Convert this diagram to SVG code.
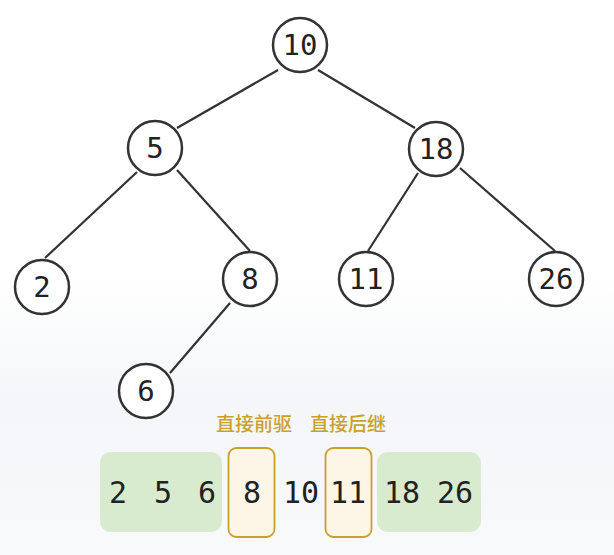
<svg xmlns="http://www.w3.org/2000/svg" width="614" height="555" viewBox="0 0 614 555">
<style>
.node circle{fill:#ffffff;stroke:#333333;stroke-width:2.5}
.node text{font-family:"DejaVu Sans Mono","Liberation Mono",monospace;font-size:29px;fill:#222222;text-anchor:middle}
.edge{stroke:#333333;stroke-width:2.2;fill:none}
.seq{font-family:"DejaVu Sans Mono","Liberation Mono",monospace;font-size:30px;fill:#222222;text-anchor:middle}
.lbl{font-family:"Noto Sans CJK SC","Noto Sans",sans-serif;font-size:19px;fill:#C9A02C;text-anchor:middle;font-weight:500}
.green{fill:#D9EBCF}
.gold{fill:#FDF6E6;stroke:#C9A02C;stroke-width:1.8}
</style>
<defs>
<linearGradient id="bg" x1="0" y1="0" x2="0" y2="1">
<stop offset="0" stop-color="#ffffff"/>
<stop offset="0.5" stop-color="#ffffff"/>
<stop offset="0.72" stop-color="#F4F6F9"/>
<stop offset="1" stop-color="#F8F9FB"/>
</linearGradient>
</defs>
<rect width="614" height="555" fill="url(#bg)"/>
<g id="connectors">
<line class="edge" x1="278" y1="70" x2="177" y2="128"/>
<line class="edge" x1="318" y1="70" x2="415" y2="128"/>
<line class="edge" x1="137" y1="172" x2="45" y2="258"/>
<line class="edge" x1="177" y1="170" x2="250" y2="251"/>
<line class="edge" x1="230" y1="303" x2="170" y2="373"/>
<line class="edge" x1="418" y1="173" x2="368" y2="251"/>
<line class="edge" x1="460" y1="168" x2="555" y2="251"/>
</g>
<g id="n10" class="node"><circle cx="300" cy="45" r="27"/><text x="300" y="55">10</text></g>
<g id="n5" class="node"><circle cx="155" cy="148" r="27"/><text x="155" y="158">5</text></g>
<g id="n18" class="node"><circle cx="436" cy="149" r="27"/><text x="436" y="159">18</text></g>
<g id="n2" class="node"><circle cx="42" cy="287" r="27"/><text x="42" y="297">2</text></g>
<g id="n8" class="node"><circle cx="250" cy="279" r="27"/><text x="250" y="289">8</text></g>
<g id="n11" class="node"><circle cx="366" cy="279" r="27"/><text x="366" y="289">11</text></g>
<g id="n26" class="node"><circle cx="556" cy="279" r="27"/><text x="556" y="289">26</text></g>
<g id="n6" class="node"><circle cx="146" cy="391" r="27"/><text x="146" y="401">6</text></g>
<g id="labels">
<text class="lbl" x="254" y="431">直接前驱</text>
<text class="lbl" x="348" y="431">直接后继</text>
</g>
<g id="sequence">
<rect class="green" x="100" y="452" width="122" height="80" rx="11"/>
<rect class="gold" x="228.5" y="448" width="46" height="89" rx="8"/>
<rect class="gold" x="325.5" y="448" width="46" height="89" rx="8"/>
<rect class="green" x="377" y="452" width="104" height="80" rx="11"/>
<text class="seq" x="118" y="503">2</text>
<text class="seq" x="163" y="503">5</text>
<text class="seq" x="207" y="503">6</text>
<text class="seq" x="252" y="503">8</text>
<text class="seq" x="301" y="503">10</text>
<text class="seq" x="348" y="503">11</text>
<text class="seq" x="402" y="503">18</text>
<text class="seq" x="455" y="503">26</text>
</g>
</svg>
